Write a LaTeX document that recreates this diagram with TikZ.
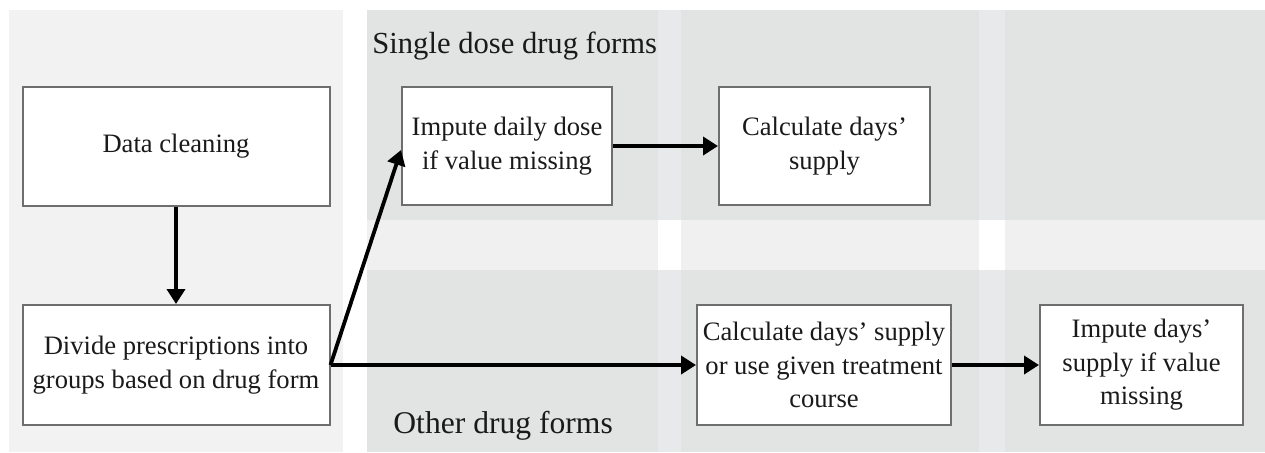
\documentclass[tikz,border=0pt]{standalone}
\usepackage{fontspec}
\setmainfont{Liberation Serif}
\usetikzlibrary{arrows.meta}
\definecolor{panelleft}{HTML}{F2F2F2}
\definecolor{rowgray}{HTML}{E2E3E3}
\definecolor{rowstripe}{HTML}{E8E9EA}
\definecolor{midband}{HTML}{F0F0F0}
\definecolor{boxgray}{HTML}{6E6E6E}
\definecolor{inkgray}{HTML}{1A1A1A}
\begin{document}
\begin{tikzpicture}[x=0.5pt,y=-0.5pt,
  stepbox/.style={draw=boxgray, line width=1pt, fill=white, align=center,
    inner sep=0pt, text=inkgray, font=\fontsize{13.3}{16.8}\selectfont},
  grouplabel/.style={anchor=base west, inner sep=0pt, text=inkgray,
    font=\fontsize{15.3}{18}\selectfont},
  flow/.style={-{Triangle[length=7.5pt,width=9pt]}, line width=1.9pt, black}]
\useasboundingbox (0,0) rectangle (1265,452);
% background panels
\fill[white] (0,0) rectangle (1265,452);
\fill[panelleft] (9,10) rectangle (343,452);
\fill[rowgray] (367,10) rectangle (1265,220);
\fill[midband] (367,220) rectangle (1265,270);
\fill[rowgray] (367,270) rectangle (1265,452);
% lighter vertical gaps between columns
\foreach \a/\b in {658/681, 979/1005}{
  \fill[rowstripe] (\a,10) rectangle (\b,220);
  \fill[white] (\a,220) rectangle (\b,270);
  \fill[rowstripe] (\a,270) rectangle (\b,452);
}
% group labels
\node[grouplabel] (single) at (372,53) {Single dose drug forms};
\node[grouplabel, font=\fontsize{15.8}{18}\selectfont] (other) at (393,433) {Other drug forms};
% steps
\node[stepbox, minimum width=153.5pt, minimum height=59.5pt] (dc) at (176,146) {Data cleaning};
\node[stepbox, minimum width=153.5pt, minimum height=60pt] (div) at (176,365)
  {Divide prescriptions into\\groups based on drug form};
\node[stepbox, minimum width=105pt, minimum height=59pt] (imp) at (507,146)
  {Impute daily dose\\if value missing};
\node[stepbox, minimum width=105.5pt, minimum height=59pt] (cds) at (824.5,146)
  {Calculate days’\\supply};
\node[stepbox, minimum width=127pt, minimum height=60pt] (cdu) at (824,365)
  {Calculate days’ supply\\or use given treatment\\course};
\node[stepbox, minimum width=101.5pt, minimum height=60pt] (ids) at (1141.5,365)
  {Impute days’\\supply if value\\missing};
% connectors
\draw[flow] (dc) -- (div);
\draw[flow] (div.east) -- ([yshift=-2pt]imp.west);
\draw[flow] (imp) -- (cds);
\draw[flow] (div.east) -- (cdu.west);
\draw[flow] (cdu) -- (ids);
\end{tikzpicture}
\end{document}
